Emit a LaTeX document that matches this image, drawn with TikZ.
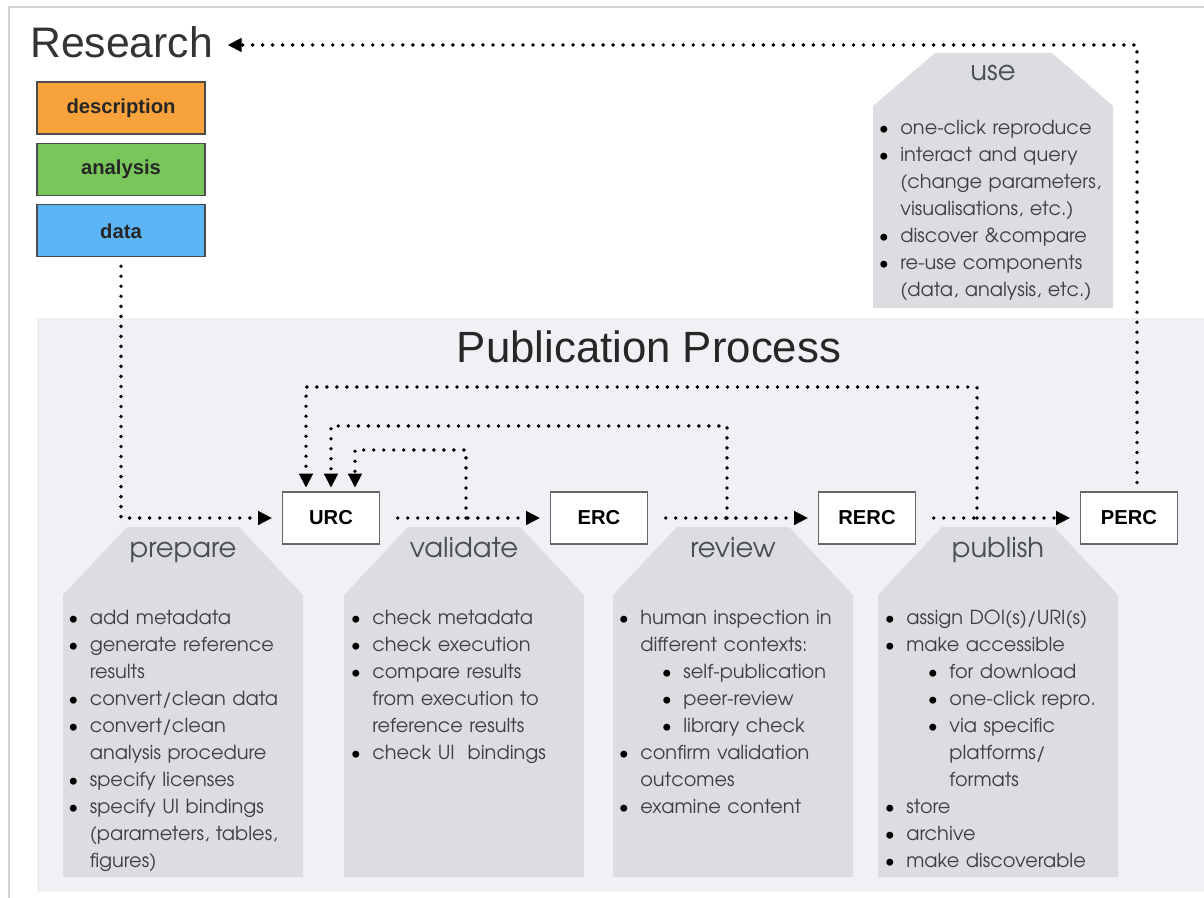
\documentclass[tikz,border=0pt]{standalone}
\usepackage{fontspec}
\setmainfont{TeX Gyre Adventor}
\newfontfamily\titlefont{Liberation Sans}
\usepackage{enumitem}
\usetikzlibrary{arrows.meta,positioning,calc}

\definecolor{procbg}{HTML}{F0F1F5}
\definecolor{stagegray}{HTML}{DCDDE1}
\definecolor{descorange}{HTML}{F8A23B}
\definecolor{anagreen}{HTML}{79C75A}
\definecolor{datablue}{HTML}{5CB6F6}
\definecolor{listgray}{HTML}{3E3E45}
\definecolor{headgray}{HTML}{4A4D55}
\definecolor{framegray}{HTML}{D2D2D2}

\setlist[itemize]{nosep, label={\color{black}\textbullet}, leftmargin=10.5pt, labelsep=6.5pt}
\setlist[itemize,2]{leftmargin=24.5pt}

\begin{document}
\begin{tikzpicture}[x=0.02cm, y=-0.02cm, node distance=0.16cm]
    \tikzstyle{part_style} = [draw=black!70, line width=0.8pt, minimum width=3.36cm, minimum height=1.04cm, font=\titlefont\bfseries\fontsize{11.5pt}{12pt}\selectfont, text=black!85]
    \tikzstyle{rc_style} = [draw=black!60, fill=white, line width=0.8pt, minimum width=1.94cm, minimum height=1.04cm, font=\titlefont\bfseries\fontsize{11.5pt}{12pt}\selectfont]
    \tikzstyle{stage_title} = [anchor=base, inner sep=0pt, text=headgray, font=\fontsize{15.6pt}{17pt}\selectfont]
    \tikzstyle{list_style} = [anchor=north west, inner sep=0pt, text width=150pt, align=left, text=listgray, font=\fontsize{11pt}{15.4pt}\selectfont]
    \tikzstyle{dot_style} = [line width=2.2pt, line cap=round, dash pattern=on 0pt off 5.7pt]
    \tikzstyle{dot_arrow} = [dot_style, -{Triangle[length=8pt,width=7.5pt]}]
    \useasboundingbox (0,0) rectangle (1204,898);

    % frame and publication area
    \draw[framegray, line width=1.2pt] (9,898) -- (9,7) -- (1204,7);
    \fill[procbg] (37,318) rectangle (1204,892);

    \node[anchor=west, inner sep=0pt, text=black!80, font=\titlefont\fontsize{24.3pt}{26pt}\selectfont] (research) at (30,42) {Research};
    \node[text=black!85, font=\titlefont\fontsize{24.9pt}{26pt}\selectfont] (pubtitle) at (649,347) {Publication Process};

    \node[part_style, fill=descorange] (desc) at (121,108) {description};
    \node[part_style, fill=anagreen, below=of desc] (ana) {analysis};
    \node[part_style, fill=datablue, below=of ana] (data) {data};

    % stage shapes
    \foreach \sx in {63,344,613,878}
        \fill[stagegray] (\sx,877) -- (\sx,595) -- (\sx+64,527) -- (\sx+176,527) -- (\sx+240,595) -- (\sx+240,877) -- cycle;
    \fill[stagegray] (873,308) -- (873,106) -- (935,53) -- (1052,53) -- (1113,106) -- (1113,308) -- cycle;

    \node[stage_title] (prep_title) at (183,558) {prepare};
    \node[stage_title] (val_title) at (464,558) {validate};
    \node[stage_title] (rev_title) at (733,558) {review};
    \node[stage_title] (pub_title) at (998,558) {publish};
    \node[stage_title] (use_title) at (993,81) {use};

    \node[list_style] (prep_list) at (71,597) {\begin{itemize}
        \item add metadata
        \item generate reference\\results
        \item convert/clean data
        \item convert/clean\\analysis procedure
        \item specify licenses
        \item specify UI bindings\\(parameters, tables,\\figures)
    \end{itemize}};
    \node[list_style] (val_list) at (353.5,597) {\begin{itemize}
        \item check metadata
        \item check execution
        \item compare results\\from execution to\\reference results
        \item check UI~ bindings
    \end{itemize}};
    \node[list_style] (rev_list) at (621.5,597) {\begin{itemize}
        \item human inspection in\\different contexts:
        \begin{itemize}
            \item self-publication
            \item peer-review
            \item library check
        \end{itemize}
        \item confirm validation\\outcomes
        \item examine content
    \end{itemize}};
    \node[list_style] (pub_list) at (887.5,597) {\begin{itemize}
        \item assign DOI(s)/URI(s)
        \item make accessible
        \begin{itemize}
            \item for download
            \item one-click repro.
            \item via specific\\platforms/\\formats
        \end{itemize}
        \item store
        \item archive
        \item make discoverable
    \end{itemize}};
    \node[list_style] (use_list) at (881.5,107) {\begin{itemize}
        \item one-click reproduce
        \item interact and query\\(change parameters,\\visualisations, etc.)
        \item discover \&compare
        \item re-use components\\(data, analysis, etc.)
    \end{itemize}};

    \node[rc_style] (urc) at (331,518) {URC};
    \node[rc_style] (erc) at (599,518) {ERC};
    \node[rc_style] (rerc) at (867,518) {RERC};
    \node[rc_style] (perc) at (1129,518) {PERC};

    \coordinate (tap1) at (466,518);
    \coordinate (tap2) at (727,518);
    \coordinate (tap3) at (977,518);

    \draw[dot_arrow, shorten <=5pt, shorten >=5.5pt] (data.south) |- (urc.west);
    \draw[dot_arrow, shorten <=10pt, shorten >=5.5pt] (urc.east) -- (erc.west);
    \draw[dot_arrow, shorten <=10pt, shorten >=5.5pt] (erc.east) -- (rerc.west);
    \draw[dot_arrow, shorten <=10pt, shorten >=5.5pt] (rerc.east) -- (perc.west);

    \draw[dot_arrow, shorten >=2pt] (tap1) -- ++(0,-68) -| ($(urc.north)+(24,0)$);
    \draw[dot_arrow, shorten >=2pt] (tap2) -- ++(0,-92) -| ($(urc.north)+(0,0)$);
    \draw[dot_arrow, shorten >=2pt] (tap3) -- ++(0,-131) -| ($(urc.north)+(-25,0)$);

    \draw[dot_arrow, shorten <=5pt, shorten >=8pt] ($(perc.north)+(8,0)$) |- ($(research.east)+(0,3)$);
\end{tikzpicture}
\end{document}
